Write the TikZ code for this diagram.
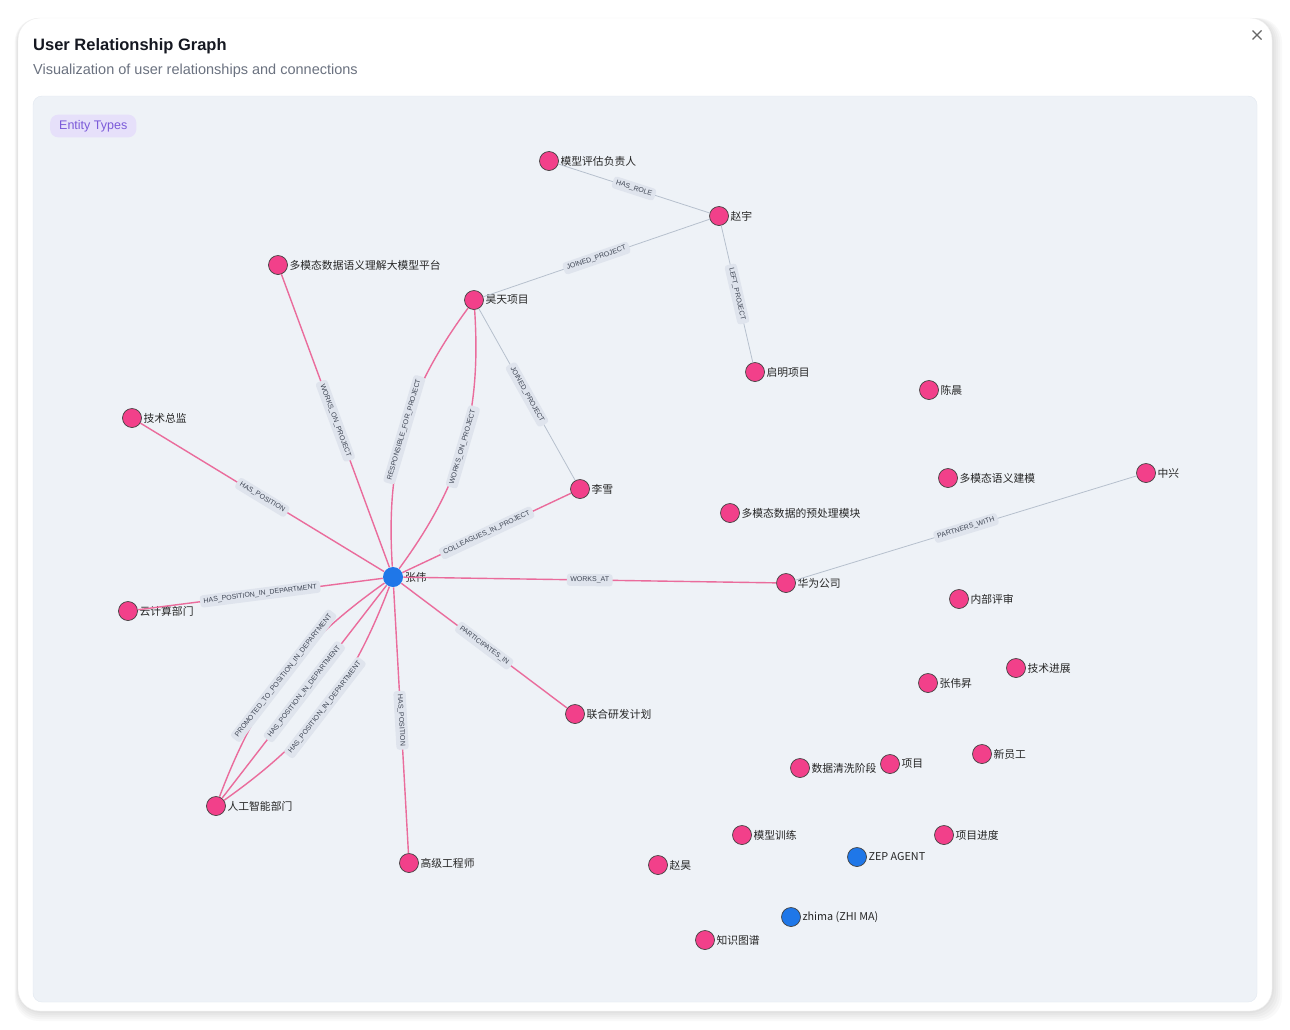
\documentclass[tikz,border=0pt]{standalone}
\usepackage{fontspec}
\setmainfont{Liberation Sans}
\newfontfamily\cjk{Noto Sans CJK SC}
\usetikzlibrary{arrows.meta,positioning}
\definecolor{panelbg}{HTML}{EEF2F7}
\definecolor{panelline}{HTML}{E2E8F0}
\definecolor{nodepink}{HTML}{F2408A}
\definecolor{nodeblue}{HTML}{1F77E8}
\definecolor{edgepink}{HTML}{EA6C9C}
\definecolor{edgegray}{HTML}{B6C0CD}
\definecolor{tagbg}{HTML}{DFE4ED}
\definecolor{tagtext}{HTML}{3F4654}
\definecolor{titlecol}{HTML}{151821}
\definecolor{subcol}{HTML}{6B7280}
\definecolor{badgebg}{HTML}{E6E0FA}
\definecolor{badgetext}{HTML}{7B5AD9}

\begin{document}
\begin{tikzpicture}[
    x=1pt,
    y=-1pt,
    entity/.style={
        circle,
        draw=black!75,
        line width=0.7pt,
        fill=nodepink,
        minimum size=19pt,
        inner sep=0pt
    },
    agent/.style={
        entity,
        fill=nodeblue
    },
    lbl/.style={
        font=\cjk\fontsize{10.8}{12}\selectfont,
        text=black!85,
        inner sep=1.5pt
    },
    rel/.style={
        draw=edgepink,
        line width=1.4pt
    },
    link/.style={
        draw=edgegray,
        line width=0.8pt
    },
    tag/.style={
        font=\fontsize{7}{8}\selectfont,
        fill=tagbg,
        text=tagtext,
        rounded corners=3pt,
        inner xsep=3.5pt,
        inner ysep=3pt,
        sloped,
        midway
    }
]
\useasboundingbox (0,0) rectangle (1290,1029);
\fill[white] (0,0) rectangle (1290,1029);

% Card with soft shadow
\foreach \s in {2,4,6,8,10}
    \fill[black, opacity=0.022, rounded corners=24pt]
        (18-\s/3,18) rectangle (1272+\s,1011+\s);
\filldraw[fill=white, draw=black!6, rounded corners=22pt] (18,18) rectangle (1272,1011);

% Header
\node[anchor=base west, inner sep=0pt, text=titlecol,
      font=\bfseries\fontsize{16.5}{20}\selectfont] (title) at (33,50)
{User Relationship Graph};
\node[anchor=base west, inner sep=0pt, text=subcol,
      font=\fontsize{14.5}{17}\selectfont] (subtitle) at (33,74)
{Visualization of user relationships and connections};
\draw[black!60, line width=1.2pt] (1252.5,30.5) -- (1261.5,39.5)
    (1252.5,39.5) -- (1261.5,30.5);

% Graph panel
\filldraw[fill=panelbg, draw=panelline, rounded corners=9pt] (33,96) rectangle (1257,1002);
\node[anchor=west, fill=badgebg, text=badgetext, rounded corners=8pt,
      inner xsep=9pt, inner ysep=5.5pt, font=\fontsize{12.5}{14}\selectfont] (badge) at (50,126)
{Entity Types};

% Entities
\node[entity, label={[lbl]right:模型评估负责人}] (pinggu) at (549,161) {};
\node[entity, label={[lbl]right:赵宇}] (zhaoyu) at (719,216) {};
\node[entity, label={[lbl]right:多模态数据语义理解大模型平台}] (platform) at (278,265) {};
\node[entity, label={[lbl]right:昊天项目}] (haotian) at (474,300) {};
\node[entity, label={[lbl]right:启明项目}] (qiming) at (755,372) {};
\node[entity, label={[lbl]right:陈晨}] (chenchen) at (929,390) {};
\node[entity, label={[lbl]right:技术总监}] (cto) at (132,418) {};
\node[entity, label={[lbl]right:李雪}] (lixue) at (580,489) {};
\node[entity, label={[lbl]right:多模态语义建模}] (semmodel) at (948,478) {};
\node[entity, label={[lbl]right:中兴}] (zte) at (1146,473) {};
\node[entity, label={[lbl]right:多模态数据的预处理模块}] (preproc) at (730,513) {};
\node[agent, draw=none, minimum size=20pt, label={[lbl]right:张伟}] (zhangwei) at (393,577) {};
\node[entity, label={[lbl]right:华为公司}] (huawei) at (786,583) {};
\node[entity, label={[lbl]right:云计算部门}] (clouddept) at (128,611) {};
\node[entity, label={[lbl]right:内部评审}] (review) at (959,599) {};
\node[entity, label={[lbl]right:技术进展}] (progress) at (1016,668) {};
\node[entity, label={[lbl]right:张伟昇}] (zwsheng) at (928,683) {};
\node[entity, label={[lbl]right:联合研发计划}] (jointplan) at (575,714) {};
\node[entity, label={[lbl]right:新员工}] (newhire) at (982,754) {};
\node[entity, label={[lbl]right:项目}] (project) at (890,764) {};
\node[entity, label={[lbl]right:数据清洗阶段}] (cleaning) at (800,768) {};
\node[entity, label={[lbl]right:人工智能部门}] (aidept) at (216,806) {};
\node[entity, label={[lbl]right:模型训练}] (training) at (742,835) {};
\node[entity, label={[lbl]right:项目进度}] (schedule) at (944,835) {};
\node[agent, label={[lbl]right:ZEP AGENT}] (zep) at (857,857) {};
\node[entity, label={[lbl]right:高级工程师}] (senior) at (409,863) {};
\node[entity, label={[lbl]right:赵昊}] (zhaohao) at (658,865) {};
\node[agent, label={[lbl]right:zhima (ZHI MA)}] (zhima) at (791,917) {};
\node[entity, label={[lbl]right:知识图谱}] (kg) at (705,940) {};

% Relations of the central user
\draw[rel] (zhangwei) -- node[tag] {WORKS\_ON\_PROJECT} (platform);
\draw[rel] (zhangwei) to[bend left=20] node[tag] {RESPONSIBLE\_FOR\_PROJECT} (haotian);
\draw[rel] (zhangwei) to[bend right=20] node[tag] {WORKS\_ON\_PROJECT} (haotian);
\draw[rel] (zhangwei) -- node[tag] {HAS\_POSITION} (cto);
\draw[rel] (zhangwei) -- node[tag] {COLLEAGUES\_IN\_PROJECT} (lixue);
\draw[rel] (zhangwei) -- node[tag] {WORKS\_AT} (huawei);
\draw[rel] (zhangwei) -- node[tag] {HAS\_POSITION\_IN\_DEPARTMENT} (clouddept);
\draw[rel] (zhangwei) -- node[tag] {PARTICIPATES\_IN} (jointplan);
\draw[rel] (zhangwei) -- node[tag] {HAS\_POSITION} (senior);
\draw[rel] (zhangwei) to[bend right=17] node[tag] {PROMOTED\_TO\_POSITION\_IN\_DEPARTMENT} (aidept);
\draw[rel] (zhangwei) -- node[tag] {HAS\_POSITION\_IN\_DEPARTMENT} (aidept);
\draw[rel] (zhangwei) to[bend left=17] node[tag] {HAS\_POSITION\_IN\_DEPARTMENT} (aidept);

% Other links
\draw[link] (pinggu) -- node[tag] {HAS\_ROLE} (zhaoyu);
\draw[link] (haotian) -- node[tag] {JOINED\_PROJECT} (zhaoyu);
\draw[link] (zhaoyu) -- node[tag] {LEFT\_PROJECT} (qiming);
\draw[link] (haotian) -- node[tag] {JOINED\_PROJECT} (lixue);
\draw[link] (huawei) -- node[tag] {PARTNERS\_WITH} (zte);

\end{tikzpicture}
\end{document}
